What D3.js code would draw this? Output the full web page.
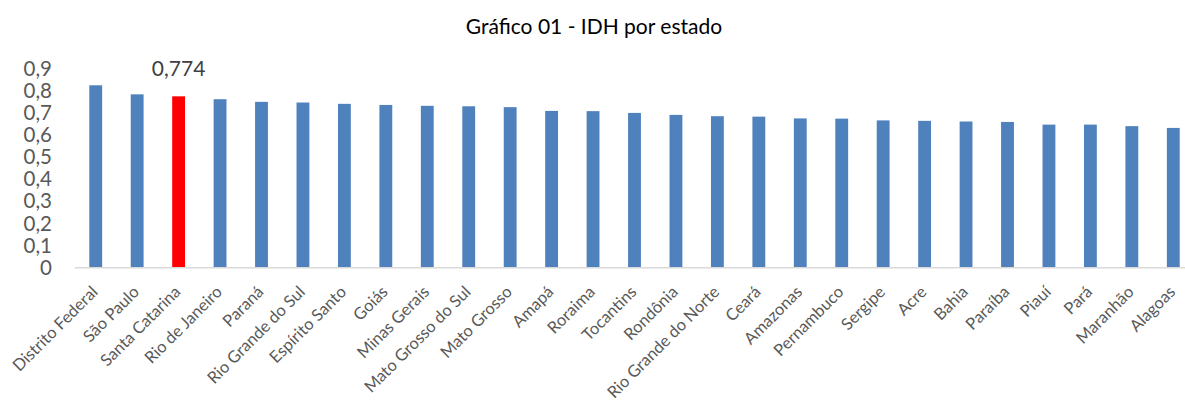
<!DOCTYPE html>
<html>
<head>
<meta charset="utf-8">
<script src="https://cdn.jsdelivr.net/npm/d3@7"></script>
<style>
  body { margin: 0; background: #fff; }
  svg { display: block; font-family: Lato, "Open Sans", sans-serif; }
</style>
</head>
<body>
<div id="chart"></div>
<script>
// estados e IDH (2010)
var estados = ["Distrito Federal", "São Paulo", "Santa Catarina", "Rio de Janeiro", "Paraná",
    "Rio Grande do Sul", "Espírito Santo", "Goiás", "Minas Gerais", "Mato Grosso do Sul",
    "Mato Grosso", "Amapá", "Roraima", "Tocantins", "Rondônia", "Rio Grande do Norte",
    "Ceará", "Amazonas", "Pernambuco", "Sergipe", "Acre", "Bahia", "Paraíba", "Piauí",
    "Pará", "Maranhão", "Alagoas"];
var idh = [0.824, 0.783, 0.774, 0.761, 0.749, 0.746, 0.740, 0.735, 0.731, 0.729,
    0.725, 0.708, 0.707, 0.699, 0.690, 0.684, 0.682, 0.674, 0.673, 0.665,
    0.663, 0.660, 0.658, 0.646, 0.646, 0.639, 0.631];
var yTicks = [0, 0.1, 0.2, 0.3, 0.4, 0.5, 0.6, 0.7, 0.8, 0.9];
var destaque = "Santa Catarina";
var titulo = "Gráfico 01 - IDH por estado";

function init(){
    var w = 1185;
    var h = 401;

    var fmt = function(d){ return String(d).replace(".", ","); };

    var xScale = d3.scaleBand()
        .domain(estados)
        .range([75, 1194])
        .paddingInner(0.69)
        .paddingOuter(0.345);

    var yScale = d3.scaleLinear()
        .domain([0, 0.9])
        .range([267.3, 68.5]);

    var svg = d3.select("#chart")
        .append("svg")
        .attr("width", w)
        .attr("height", h);

    // title
    svg.append("text")
        .attr("x", 594)
        .attr("y", 34)
        .attr("text-anchor", "middle")
        .attr("font-size", "21px")
        .attr("fill", "#000")
        .text(titulo);

    // y tick labels (no axis line)
    svg.append("g")
        .selectAll("text")
        .data(yTicks)
        .enter()
        .append("text")
        .attr("x", 52)
        .attr("y", function(d){ return yScale(d); })
        .attr("dy", "0.36em")
        .attr("text-anchor", "end")
        .attr("font-size", "20.5px")
        .attr("fill", "#595959")
        .text(function(d){ return fmt(d); });

    // bars
    svg.selectAll("rect.bar")
        .data(idh)
        .enter()
        .append("rect")
        .attr("class", "bar")
        .attr("x", function(d, i){ return xScale(estados[i]); })
        .attr("y", function(d){ return yScale(d); })
        .attr("width", xScale.bandwidth())
        .attr("height", function(d){ return yScale(0) - yScale(d); })
        .attr("fill", function(d, i){ return estados[i] === destaque ? "#ff0000" : "#4f81bd"; });

    // x axis line
    svg.append("line")
        .attr("x1", 75)
        .attr("x2", 1194)
        .attr("y1", yScale(0) + 0.5)
        .attr("y2", yScale(0) + 0.5)
        .attr("stroke", "#d9d9d9")
        .attr("stroke-width", 1.5);

    // data label for highlighted state
    var iD = estados.indexOf(destaque);
    svg.append("text")
        .attr("x", xScale(destaque) + xScale.bandwidth() / 2)
        .attr("y", yScale(idh[iD]) - 20)
        .attr("text-anchor", "middle")
        .attr("font-size", "21px")
        .attr("fill", "#404040")
        .text(fmt(idh[iD]));

    // category labels, rotated
    svg.append("g")
        .selectAll("text")
        .data(estados)
        .enter()
        .append("text")
        .attr("transform", function(d){
            var cx = xScale(d) + xScale.bandwidth() / 2 + 3;
            return "translate(" + cx + "," + 293 + ") rotate(-45)";
        })
        .attr("text-anchor", "end")
        .attr("font-size", "16.5px")
        .attr("fill", "#595959")
        .text(function(d){ return d; });
}

window.onload = init;
</script>
</body>
</html>
